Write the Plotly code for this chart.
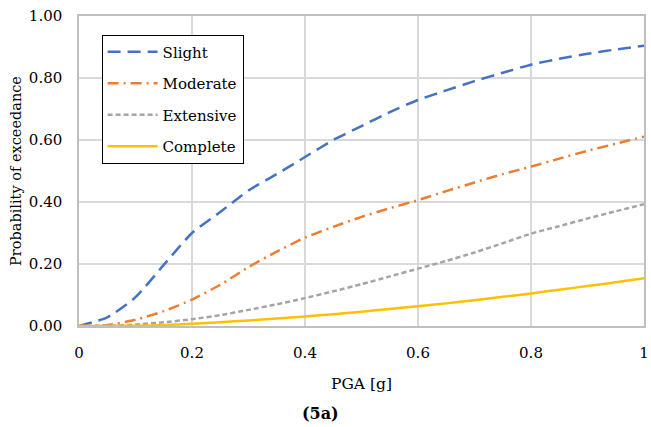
import plotly.graph_objects as go

# Peak ground acceleration values (g)
pga = [0.00, 0.05, 0.10, 0.15, 0.20, 0.25, 0.30, 0.35, 0.40, 0.45, 0.50,
       0.55, 0.60, 0.65, 0.70, 0.75, 0.80, 0.85, 0.90, 0.95, 1.00]

# Probability of exceedance for each damage state
slight = [0.000, 0.028, 0.093, 0.197, 0.300, 0.368, 0.437, 0.490, 0.545, 0.600, 0.645,
          0.690, 0.729, 0.760, 0.790, 0.817, 0.843, 0.862, 0.878, 0.892, 0.904]
moderate = [0.000, 0.003, 0.020, 0.048, 0.085, 0.133, 0.190, 0.240, 0.285, 0.320, 0.352,
            0.380, 0.406, 0.435, 0.463, 0.490, 0.514, 0.540, 0.565, 0.588, 0.611]
extensive = [0.000, 0.001, 0.005, 0.012, 0.022, 0.035, 0.052, 0.070, 0.090, 0.112, 0.135,
             0.160, 0.185, 0.210, 0.237, 0.267, 0.298, 0.322, 0.347, 0.370, 0.393]
complete = [0.000, 0.000, 0.001, 0.003, 0.007, 0.012, 0.018, 0.024, 0.031, 0.038, 0.046,
            0.055, 0.064, 0.073, 0.083, 0.094, 0.105, 0.117, 0.129, 0.141, 0.154]

x_ticks = [0, 0.2, 0.4, 0.6, 0.8, 1.0]
x_tick_text = ["0", "0.2", "0.4", "0.6", "0.8", "1"]
y_ticks = [0.0, 0.2, 0.4, 0.6, 0.8, 1.0]
y_tick_text = ["0.00", "0.20", "0.40", "0.60", "0.80", "1.00"]

FONT = "DejaVu Serif"

series = [
    ("Slight", slight, "#4472C4", "13px,7px"),
    ("Moderate", moderate, "#ED7D31", "11px,5px,2px,5px"),
    ("Extensive", extensive, "#A5A5A5", "5px,3px"),
    ("Complete", complete, "#FFC000", "solid"),
]

fig = go.Figure()
for i, (name, vals, color, dash) in enumerate(series):
    fig.add_trace(go.Scatter(
        x=pga, y=vals, name=name, mode="lines",
        line=dict(color=color, width=2.5, dash=dash, shape="spline", smoothing=0.6),
        legendgroup=f"g{i}",
    ))

fig.update_layout(
    width=651, height=427,
    margin=dict(l=79, r=2, t=16, b=101),
    paper_bgcolor="white", plot_bgcolor="white",
    font=dict(family=FONT, size=15, color="black"),
    showlegend=True,
    legend=dict(
        x=0.04, y=0.94, xanchor="left", yanchor="top",
        bgcolor="white", bordercolor="black", borderwidth=1,
        font=dict(family=FONT, size=15, color="black"),
        traceorder="grouped", tracegroupgap=9,
        itemwidth=50,
    ),
    xaxis=dict(
        range=[0, 1], tickvals=x_ticks, ticktext=x_tick_text,
        showgrid=True, gridcolor="#D9D9D9", gridwidth=1.5,
        showline=True, linecolor="#BFBFBF", linewidth=1.5, mirror=True,
        zeroline=False, ticks="", ticklabelstandoff=12, ticklabeloverflow="allow",
        title=dict(text="PGA [g]", font=dict(family=FONT, size=15.5), standoff=17),
    ),
    yaxis=dict(
        range=[0, 1], tickvals=y_ticks, ticktext=y_tick_text,
        showgrid=True, gridcolor="#D9D9D9", gridwidth=1.5,
        showline=True, linecolor="#BFBFBF", linewidth=1.5, mirror=True,
        zeroline=False, ticks="", ticklabelstandoff=12,
        title=dict(text="Probability of exceedance", font=dict(family=FONT, size=14.5), standoff=4),
    ),
    annotations=[dict(
        text="<b>(5a)</b>", xref="paper", yref="paper",
        x=(323 - 79) / 570, y=-(413 - 326) / 310,
        xanchor="center", yanchor="middle", showarrow=False,
        font=dict(family=FONT, size=16, color="black"),
    )],
)

fig.write_html("out.html")
